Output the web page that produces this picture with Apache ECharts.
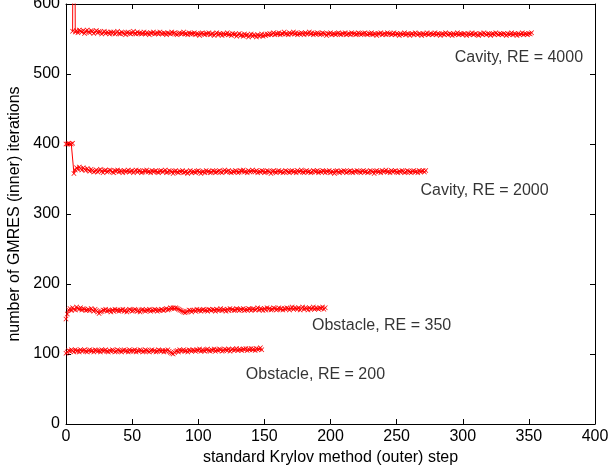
<!DOCTYPE html>
<html>
<head>
<meta charset="utf-8">
<script src="https://cdn.jsdelivr.net/npm/echarts@6/dist/echarts.min.js"></script>
<style>
html, body { margin: 0; padding: 0; background: #fff; }
#main { width: 608px; height: 475px; }
</style>
</head>
<body>
<div id="main"></div>
<script>
// GMRES inner iterations per outer Krylov step, one array per case
var cavity4000Start = 5;
var cavity4000 = [
    561, 1100, 560, 562, 559, 563, 561, 560, 562, 558, 561, 563, 560, 559, 562, 561, 558, 560, 562, 559, 561, 560, 557, 559, 561, 558, 560, 559, 557, 560,
    558, 560, 557, 559, 561, 558, 557, 560, 559, 558, 556, 559, 560, 558, 557, 559, 561, 558, 557, 560, 558, 559, 557, 558, 560, 557, 559, 558, 556, 559,
    558, 560, 557, 558, 559, 557, 560, 558, 557, 559, 558, 556, 559, 558, 557, 560, 558, 559, 557, 556, 558, 559, 557, 558, 560, 557, 558, 556, 559, 557,
    558, 557, 559, 556, 558, 557, 555, 558, 559, 557, 556, 558, 557, 559, 556, 557, 558, 555, 557, 559, 556, 558, 557, 555, 558, 556, 557, 559, 556, 557,
    555, 558, 556, 557, 554, 556, 558, 555, 556, 554, 557, 555, 556, 553, 555, 557, 554, 556, 555, 553, 556, 554, 555, 557, 554, 556, 555, 557, 556, 558,
    556, 557, 559, 556, 558, 557, 559, 556, 558, 557, 560, 557, 558, 556, 559, 557, 558, 560, 557, 559, 556, 558, 557, 559, 558, 556, 559, 557, 558, 560,
    557, 559, 556, 558, 557, 559, 558, 556, 557, 559, 558, 557, 555, 558, 557, 559, 556, 558, 557, 556, 558, 559, 557, 556, 558, 557, 559, 556, 557, 558,
    556, 559, 557, 558, 556, 557, 559, 558, 556, 557, 558, 559, 557, 556, 558, 557, 559, 556, 558, 557, 555, 558, 557, 559, 556, 557, 558, 556, 559, 557,
    558, 556, 557, 559, 556, 558, 557, 555, 558, 556, 557, 559, 556, 558, 557, 555, 557, 558, 556, 559, 557, 556, 558, 557, 555, 558, 556, 557, 559, 556,
    557, 558, 556, 557, 559, 556, 558, 557, 555, 557, 558, 556, 559, 557, 556, 558, 557, 555, 558, 556, 557, 559, 556, 558, 557, 556, 558, 557, 555, 558,
    556, 557, 559, 556, 557, 558, 556, 555, 558, 557, 556, 559, 557, 556, 558, 557, 555, 557, 558, 556, 559, 557, 556, 558, 557, 556, 558, 557, 555, 558,
    556, 557, 559, 556, 558, 557, 555, 558, 556, 557, 559, 556, 558, 557, 556, 558, 557, 559
];

var cavity2000 = [
    400, 400, 401, 400, 400, 401,
    358, 363, 366, 364, 367, 365, 363, 366, 364, 362, 365, 363, 361, 364, 362, 360,
    361, 363, 360, 362, 364, 361, 359, 362, 363, 360, 361, 363, 362, 360, 359, 362, 361, 363, 360, 362, 361, 359, 362, 360, 361,
    363, 360, 361, 362, 359, 361, 363, 360, 362, 361, 359, 360, 362, 361, 363, 360, 361, 359, 362, 360, 361, 362, 360, 359, 361,
    362, 360, 361, 363, 359, 360, 362, 361, 360, 358, 361, 362, 360, 359, 361, 360, 362, 359, 360, 361, 358, 360, 362, 359, 361,
    360, 359, 361, 362, 360, 358, 360, 361, 359, 362, 360, 361, 359, 360, 362, 361, 359, 360, 361, 362, 360, 359, 361, 363, 360,
    361, 362, 360, 359, 361, 360, 362, 361, 359, 360, 362, 361, 363, 360, 361, 359, 362, 360, 361, 363, 361, 360, 362, 359, 361,
    360, 362, 361, 359, 360, 362, 361, 360, 358, 361, 362, 360, 359, 361, 362, 360, 361, 359, 360, 362, 361, 360, 359, 361, 362,
    360, 361, 359, 362, 360, 361, 363, 360, 359, 361, 362, 360, 361, 359, 360, 362, 361, 360, 362, 359, 361, 360, 362, 361, 359,
    361, 360, 362, 359, 361, 360, 358, 361, 362, 360, 359, 361, 360, 362, 361, 359, 360, 361, 362, 360, 359, 361, 360, 362, 361,
    360, 359, 361, 362, 360, 361, 359, 360, 362, 361, 360, 358, 361, 362, 360, 361, 359, 362, 360, 361, 363, 360, 361, 359, 362,
    360, 361, 362, 360, 359, 361, 360, 362, 361, 359, 360, 362, 361, 360, 359, 361, 362, 360, 361, 359, 362, 360, 361, 362, 360,
    362
];

var obstacle350 = [
    150, 157, 163, 165, 162, 166, 164, 163, 167, 165, 164, 166, 163, 165, 164, 162,
    163, 164, 162, 165, 163, 161, 164, 162, 160, 158, 160, 161, 163, 162, 164, 161, 163, 162, 160, 163, 161, 164, 162, 163, 161,
    163, 162, 164, 161, 163, 160, 162, 164, 163, 161, 162, 164, 163, 161, 162, 160, 163, 164, 162, 161, 163, 162, 164, 161, 163,
    162, 164, 163, 161, 163, 162, 164, 163, 162, 164, 165, 163, 164, 166, 165, 166, 165, 166, 165, 164, 163, 162, 161, 160, 159,
    160, 161, 163, 162, 160, 162, 163, 161, 164, 162, 163, 161, 163, 164, 162, 163, 161, 164, 163, 162, 164, 163, 161, 164, 162,
    163, 165, 162, 164, 163, 161, 164, 162, 165, 163, 164, 162, 163, 165, 164, 162, 164, 163, 165, 162, 164, 163, 165, 164, 162,
    164, 165, 163, 164, 166, 163, 165, 164, 162, 165, 163, 166, 164, 165, 163, 164, 166, 165, 163, 164, 166, 164, 165, 163, 165,
    164, 166, 165, 163, 165, 167, 164, 166, 165, 164, 166, 163, 165, 167, 164, 166, 165, 163, 166, 164, 165, 167, 164, 166, 165,
    164, 166, 165, 167, 164, 166
];

var obstacle200 = [
    101, 103, 105, 104, 106, 105, 103, 106, 104, 105, 103, 106, 104, 105, 106, 104, 103, 105, 106, 104, 105, 103, 106, 105, 104,
    105, 103, 106, 104, 105, 106, 104, 103, 105, 104, 106, 105, 103, 104, 106, 105, 104, 103, 105, 106, 104, 105, 103, 106, 104,
    105, 104, 106, 103, 105, 104, 106, 105, 103, 104, 106, 105, 104, 103, 105, 106, 104, 105, 103, 104, 106, 105, 104, 105, 103,
    105, 104, 106, 104, 102, 101, 100, 102, 104, 105, 103, 106, 104, 105, 106, 104, 105, 103, 106, 105, 104, 106, 105, 104, 106,
    105, 107, 104, 106, 105, 104, 106, 107, 105, 104, 106, 105, 107, 104, 106, 105, 107, 106, 104, 105, 107, 106, 105, 107, 104,
    106, 107, 105, 106, 108, 105, 107, 106, 105, 107, 106, 108, 105, 107, 106, 108, 106, 107, 105, 108, 106, 107, 109, 106
];

var labelText = ['Cavity, RE = 4000', 'Cavity, RE = 2000', 'Obstacle, RE = 350', 'Obstacle, RE = 200'];
var labelX = [294, 268, 186, 136];
var labelY = [524, 334, 140, 71];

var xTicks = { min: 0, max: 400, interval: 50 };
var yTicks = { min: 0, max: 600, interval: 100 };

var myChart = echarts.init(document.getElementById('main'));

var font = 'Arial, "Liberation Sans", Helvetica, sans-serif';
var cross = 'path://M0,1L1,0L5,4L9,0L10,1L6,5L10,9L9,10L5,6L1,10L0,9L4,5Z';

function pairs(arr, start) {
    return arr.map(function(v, i) { return [start + i, v]; });
}

function lineSeries(arr, start) {
    return {
        type: 'line',
        data: pairs(arr, start),
        symbol: cross,
        symbolSize: 5,
        showAllSymbol: true,
        itemStyle: { color: '#ff0000' },
        lineStyle: { color: '#ff0000', width: 1 },
        clip: true,
        silent: true
    };
}

function axisBase(t) {
    return {
        type: 'value',
        min: t.min,
        max: t.max,
        interval: t.interval,
        splitLine: { show: false },
        axisLine: { show: true, onZero: false, lineStyle: { color: '#000', width: 1 } },
        axisTick: { show: true, inside: true, length: 5, lineStyle: { color: '#000', width: 1 } }
    };
}

var xBottom = axisBase(xTicks);
xBottom.position = 'bottom';
xBottom.axisLabel = { color: '#000', fontSize: 16, fontFamily: font, margin: 5 };
xBottom.name = 'standard Krylov method (outer) step';
xBottom.nameLocation = 'middle';
xBottom.nameGap = 26;
xBottom.nameTextStyle = { color: '#000', fontSize: 16, fontFamily: font };

var xTop = axisBase(xTicks);
xTop.position = 'top';
xTop.axisLabel = { show: false };

var yLeft = axisBase(yTicks);
yLeft.position = 'left';
yLeft.axisLabel = { color: '#000', fontSize: 16, fontFamily: font, margin: 6 };
yLeft.name = 'number of GMRES (inner) iterations';
yLeft.nameLocation = 'middle';
yLeft.nameGap = 42;
yLeft.nameTextStyle = { color: '#000', fontSize: 16, fontFamily: font };

var yRight = axisBase(yTicks);
yRight.position = 'right';
yRight.axisLabel = { show: false };

var labelData = labelText.map(function(t, i) { return [labelX[i], labelY[i], t]; });

var option = {
    animation: false,
    backgroundColor: '#fff',
    grid: { left: 66, right: 13, top: 4, bottom: 51, containLabel: false, outerBoundsMode: 'none' },
    xAxis: [xBottom, xTop],
    yAxis: [yLeft, yRight],
    series: [
        lineSeries(cavity4000, cavity4000Start),
        lineSeries(cavity2000, 0),
        lineSeries(obstacle350, 0),
        lineSeries(obstacle200, 0),
        {
            type: 'scatter',
            data: labelData,
            symbolSize: 0,
            silent: true,
            label: {
                show: true,
                position: 'right',
                distance: 0,
                formatter: function(p) { return p.data[2]; },
                color: '#000',
                fontSize: 16,
                fontFamily: font
            }
        }
    ]
};

myChart.setOption(option);
</script>
</body>
</html>
